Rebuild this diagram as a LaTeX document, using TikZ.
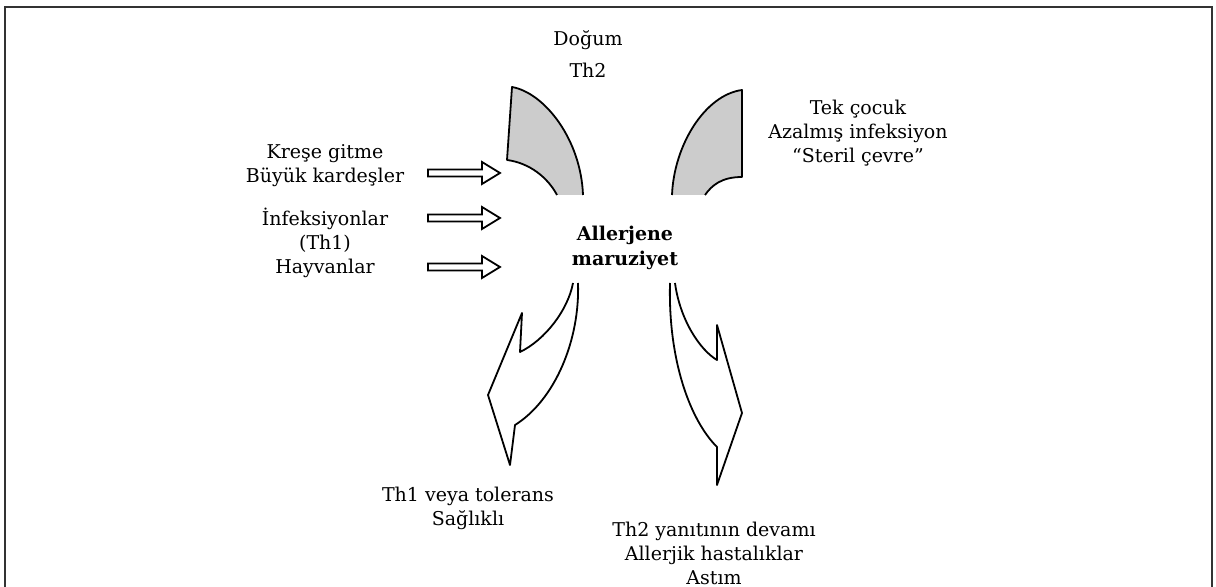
\documentclass[tikz,border=0pt]{standalone}
\usepackage{fontspec}
\setmainfont{DejaVu Serif}

\begin{document}
\begin{tikzpicture}[
  x=0.5pt, y=-0.5pt,
  every node/.style={font=\fontsize{9.5}{12}\selectfont, align=center, inner sep=1pt},
  bold/.style={font=\fontsize{9.5}{12.5}\selectfont\bfseries},
  blade/.style={line width=0.9pt, line join=round},
  hollow/.style={draw, line width=0.9pt, line join=miter},
]
\useasboundingbox (0,0) rectangle (1216,587);
\draw[line width=1pt, black!80] (5,600) -- (5,7) -- (1212,7) -- (1212,600);

% gray blades
\fill[black!20] (512,87) -- (507,160) .. controls (530,163) and (548,178) .. (557,195)
  -- (583,195) .. controls (581,140) and (545,93) .. (512,87);
\draw[blade] (557,195) .. controls (548,178) and (530,163) .. (507,160) -- (512,87)
  .. controls (545,93) and (581,140) .. (583,195);
\fill[black!20] (742,90) -- (742,177) .. controls (722,177) and (712,185) .. (705,195)
  -- (672,195) .. controls (674,145) and (705,95) .. (742,90);
\draw[blade] (705,195) .. controls (712,185) and (722,177) .. (742,177) -- (742,90)
  .. controls (705,95) and (674,145) .. (672,195);

% hollow arrows
\foreach \y in {173,218,267}
  \draw[hollow] (428,\y-3.5) -- (482,\y-3.5) -- (482,\y-11) -- (500,\y)
    -- (482,\y+11) -- (482,\y+3.5) -- (428,\y+3.5) -- cycle;

% curved arrows
\draw[blade] (578,283) .. controls (580,340) and (555,400) .. (515,425) -- (510,465)
  -- (488,395) -- (522,313) -- (520,352) .. controls (545,340) and (568,310) .. (573,283);
\draw[blade] (670,283) .. controls (668,360) and (690,420) .. (717,447) -- (717,485)
  -- (742,413) -- (717,325) -- (717,360) .. controls (700,350) and (680,320) .. (675,283);

% labels
\node (dogum) at (588,40) {Doğum};
\node (th2) at (588,70) {Th2};
\node (kres) at (325,165.5) {Kreşe gitme\\Büyük kardeşler};
\node (infek) at (325,242.5) {İnfeksiyonlar\\(Th1)\\Hayvanlar};
\node (tek) at (858,133) {Tek çocuk\\Azalmış infeksiyon\\“Steril çevre”};
\node[bold] (allerj) at (625,247.5) {Allerjene\\maruziyet};
\node (th1) at (468,508.5) {Th1 veya tolerans\\Sağlıklı};
\node (devam) at (714,553.5) {Th2 yanıtının devamı\\Allerjik hastalıklar\\Astım};
\end{tikzpicture}
\end{document}
